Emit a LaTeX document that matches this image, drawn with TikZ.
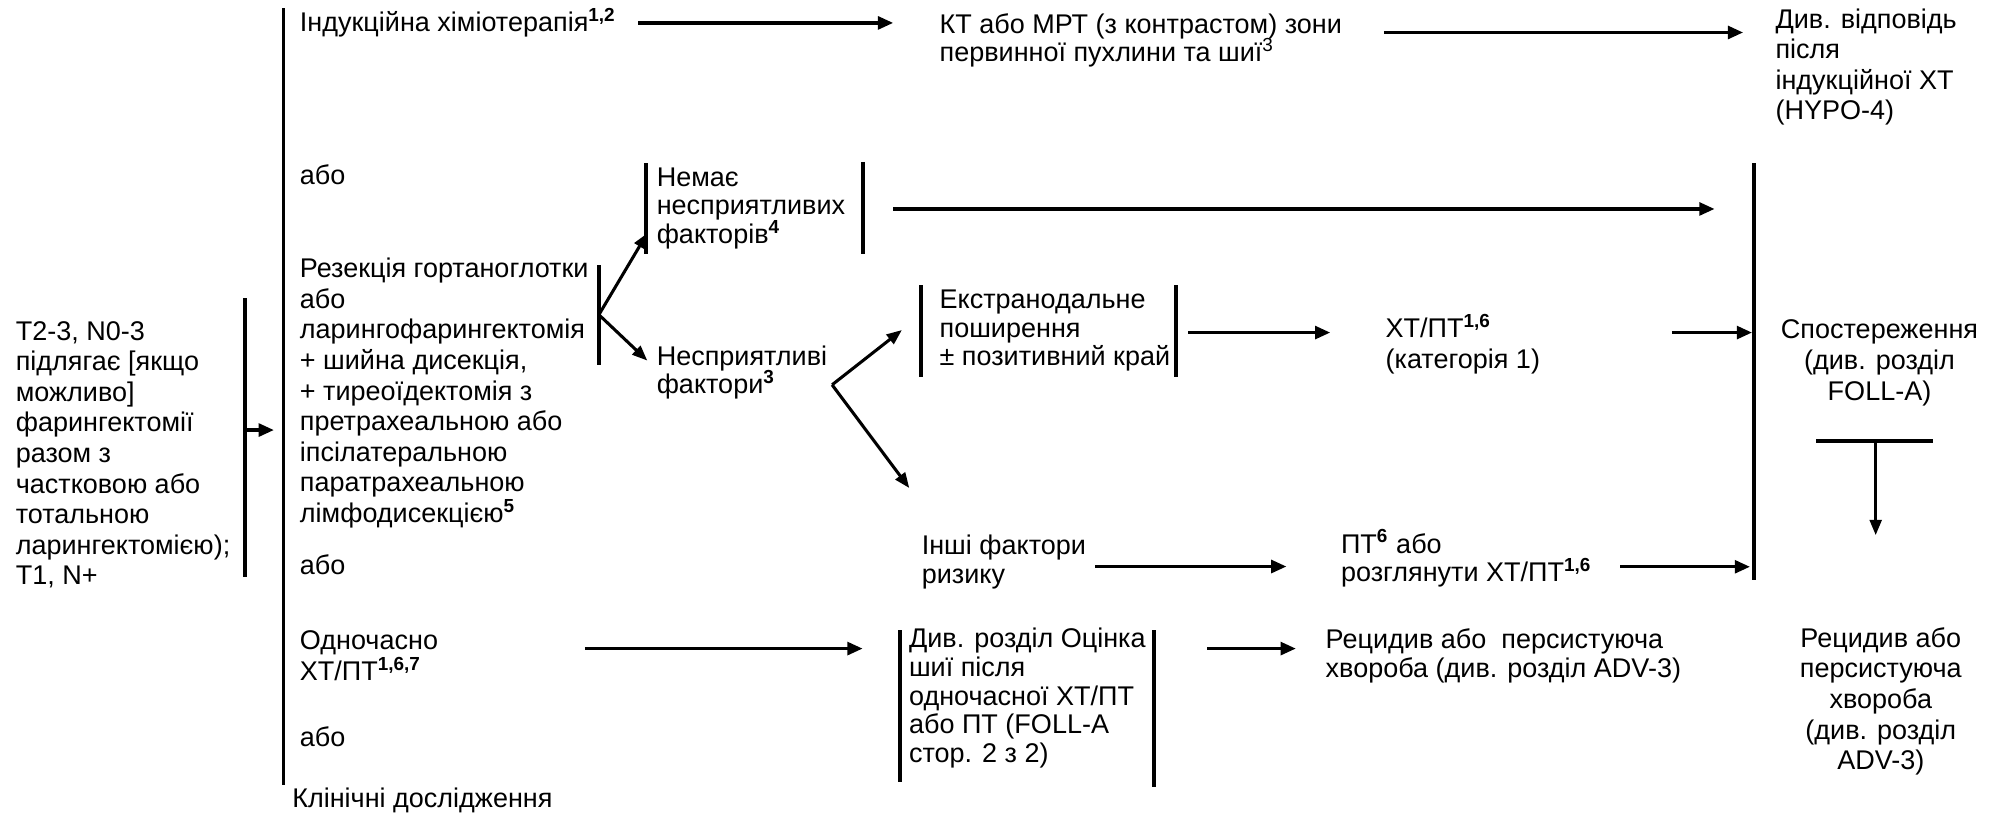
\documentclass[tikz,border=0pt]{standalone}
\usepackage{fontspec}
\setmainfont{Liberation Sans}
\usetikzlibrary{arrows.meta}
% body text with two line pitches
\newcommand{\fs}{\fontsize{10.6}{12}\selectfont}
\newcommand{\fsn}{\fontsize{10.6}{11.25}\selectfont}
% bold note marks that do not disturb the line pitch
\newcommand{\sps}[1]{\smash{\textsuperscript{\textbf{#1}}}}
% block of lines whose baseline is the first line
\newcommand{\blk}[2][l]{\begin{tabular}[t]{@{}#1@{}}#2\end{tabular}}
\begin{document}
\begin{tikzpicture}[x=0.5pt,y=-0.5pt,
  txt/.style={anchor=base west, inner sep=0pt, font=\fs},
  txtn/.style={anchor=base west, inner sep=0pt, font=\fsn},
  ctr/.style={anchor=base, inner sep=0pt, font=\fs},
  bar/.style={line width=1.5pt},
  arr/.style={line width=1.35pt, -{Triangle[length=6pt,width=5pt]}},
  darr/.style={line width=1.2pt, -{Triangle[length=6pt,width=4.6pt]}}]
\useasboundingbox (0,0) rectangle (1568,640);

% ---- text blocks
\node[txt] (stage) at (12,267) {\blk{Т2-3, N0-3\\підлягає [якщо\\можливо]\\фарингектомії\\разом з\\частковою або\\тотальною\\ларингектомією);\\Т1, N+}};
\node[txt] (ind) at (235,25) {Індукційна хіміотерапія\sps{1,2}};
\node[txtn] (kt) at (737,26) {\blk{КТ або МРТ (з контрастом) зони\\первинної пухлини та шиї\smash{\textsuperscript{3}}}};
\node[txt] (hypo) at (1393,22) {\blk{Див. відповідь\\після\\індукційної ХТ\\(HYPO-4)}};
\node[txt] (abo1) at (235,145) {або};
\node[txtn] (nemae) at (515,146) {\blk{Немає\\несприятливих\\факторів\sps{4}}};
\node[txt] (rez) at (235,218) {\blk{Резекція гортаноглотки\\або\\ларингофарингектомія\\+ шийна дисекція,\\+ тиреоїдектомія з\\претрахеальною або\\іпсілатеральною\\паратрахеальною\\лімфодисекцією\sps{5}}};
\node[txtn] (nespr) at (515,286.5) {\blk{Несприятливі\\фактори\sps{3}}};
\node[txtn] (ekstr) at (737,242) {\blk{Екстранодальне\\поширення\\± позитивний край}};
\node[txt] (xtpt) at (1087,265) {\blk{ХТ/ПТ\sps{1,6}\\(категорія 1)}};
\node[ctr] (spost) at (1475,266) {\blk[c]{Спостереження\\(див. розділ\\FOLL-A)}};
\node[txtn] (inshi) at (723,435.5) {\blk{Інші фактори\\ризику}};
\node[txtn] (pt) at (1052,434) {\blk{ПТ\sps{6} або\\розглянути ХТ/ПТ\sps{1,6}}};
\node[txt] (abo2) at (235,451) {або};
\node[txt] (odn) at (235,510) {\blk{Одночасно\\ХТ/ПТ\sps{1,6,7}}};
\node[txtn] (div) at (713,508.5) {\blk{Див. розділ Оцінка\\шиї після\\одночасної ХТ/ПТ\\або ПТ (FOLL-A\\стор. 2 з 2)}};
\node[txtn] (rec1) at (1040,509) {\blk{Рецидив або\ \ персистуюча\\хвороба (див. розділ ADV-3)}};
\node[ctr] (rec2) at (1476,508) {\blk[c]{Рецидив або\\персистуюча\\хвороба\\(див. розділ\\ADV-3)}};
\node[txt] (abo3) at (235,586) {або};
\node[txt] (klin) at (229,634) {Клінічні дослідження};

% ---- bracket bars
\coordinate (mainT) at (222.5,6.5);   \coordinate (mainB) at (222.5,616);
\coordinate (stT) at (192,234);       \coordinate (stB) at (192,453);
\coordinate (nmLT) at (507,128);      \coordinate (nmLB) at (507,199);
\coordinate (nmRT) at (677.5,127);    \coordinate (nmRB) at (677.5,199);
\coordinate (rzT) at (470,208);       \coordinate (rzB) at (470,286.5);
\coordinate (ekLT) at (723,224);      \coordinate (ekLB) at (723,296);
\coordinate (ekRT) at (922.7,224);    \coordinate (ekRB) at (922.7,296);
\coordinate (dvLT) at (706.6,494.5);  \coordinate (dvLB) at (706.6,613.6);
\coordinate (dvRT) at (905.5,494.5);  \coordinate (dvRB) at (905.5,617.6);
\coordinate (obsT) at (1376.8,128);   \coordinate (obsB) at (1376.8,455);
\coordinate (tL) at (1425.5,346);     \coordinate (tR) at (1516.6,346);
\foreach \a/\b in {mainT/mainB, stT/stB, nmLT/nmLB, nmRT/nmRB, rzT/rzB,
                   ekLT/ekLB, ekRT/ekRB, dvLT/dvLB, dvRT/dvRB, obsT/obsB, tL/tR}
  \draw[bar] (\a) -- (\b);

% ---- connector ends
\coordinate (stOut) at (192,337.5);   \coordinate (stIn) at (215,337.5);
\coordinate (indOut) at (501,18);     \coordinate (ktIn) at (701,18);
\coordinate (ktOut) at (1086,25.5);   \coordinate (hypoIn) at (1368,25.5);
\coordinate (nmOut) at (701,164);     \coordinate (nmIn) at (1345.6,164);
\coordinate (rzOut) at (470,247);
\coordinate (nmTip) at (508,183);     \coordinate (nsTip) at (508,283);
\coordinate (nsOut) at (653,302);
\coordinate (ekTip) at (707.8,259);   \coordinate (inTip) at (713.6,383);
\coordinate (ekOut) at (932.5,261);   \coordinate (xtIn) at (1044,261);
\coordinate (xtOut) at (1312,261);    \coordinate (obsIn1) at (1375,261);
\coordinate (inOut) at (859.6,444.6); \coordinate (ptIn) at (1009.6,444.6);
\coordinate (ptOut) at (1271.6,444.8);\coordinate (obsIn2) at (1373.4,444.8);
\coordinate (odOut) at (459,509);     \coordinate (dvIn) at (677,509);
\coordinate (dvOut) at (947.5,509);   \coordinate (rcIn) at (1017,509);
\coordinate (tMid) at (1472,346);     \coordinate (rc2In) at (1472,420);

% ---- connectors
\draw[arr] (stOut) -- (stIn);
\draw[arr] (indOut) -- (ktIn);
\draw[arr] (ktOut) -- (hypoIn);
\draw[arr] (nmOut) -- (nmIn);
\draw[darr] (rzOut) -- (nmTip);
\draw[darr] (rzOut) -- (nsTip);
\draw[darr] (nsOut) -- (ekTip);
\draw[darr] (nsOut) -- (inTip);
\draw[arr] (ekOut) -- (xtIn);
\draw[arr] (xtOut) -- (obsIn1);
\draw[arr] (inOut) -- (ptIn);
\draw[arr] (ptOut) -- (obsIn2);
\draw[arr] (odOut) -- (dvIn);
\draw[arr] (dvOut) -- (rcIn);
\draw[darr] (tMid) -- (rc2In);
\end{tikzpicture}
\end{document}
